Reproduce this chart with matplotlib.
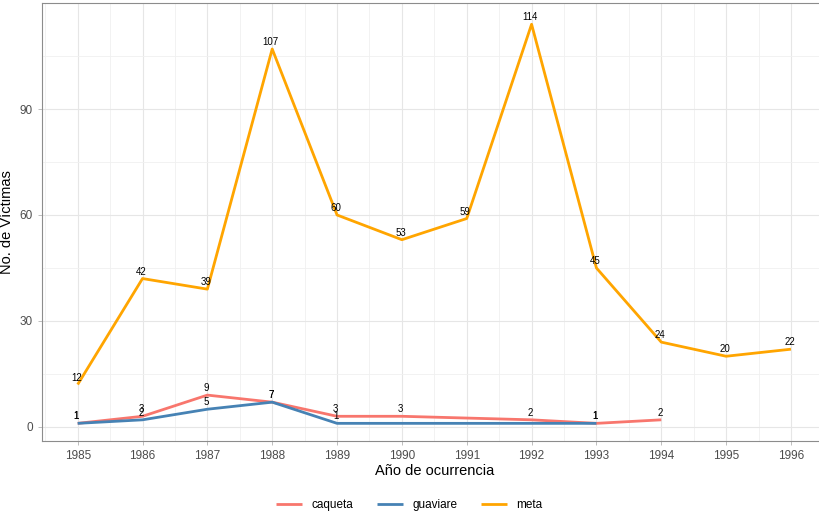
import matplotlib
matplotlib.use("Agg")
import matplotlib.pyplot as plt
from matplotlib.ticker import MultipleLocator

plt.rcParams["font.family"] = ["Liberation Sans", "DejaVu Sans"]

# data
caqueta_years = [1985, 1986, 1987, 1988, 1989, 1990, 1992, 1993, 1994]
caqueta_vals = [1, 3, 9, 7, 3, 3, 2, 1, 2]

guaviare_years = [1985, 1986, 1987, 1988, 1989, 1993]
guaviare_vals = [1, 2, 5, 7, 1, 1]

meta_years = list(range(1985, 1997))
meta_vals = [12, 42, 39, 107, 60, 53, 59, 114, 45, 24, 20, 22]

series = [
    ("caqueta", caqueta_years, caqueta_vals, "#F8766D"),
    ("guaviare", guaviare_years, guaviare_vals, "#4682B4"),
    ("meta", meta_years, meta_vals, "#FFA500"),
]

fig = plt.figure(figsize=(8.19, 5.14), dpi=100)
ax = fig.add_axes([0.0513, 0.142, 0.958, 0.852])

for name, xs, ys, col in series:
    ax.plot(xs, ys, color=col, lw=2.0, label=name, solid_capstyle="butt", zorder=3)
for name, xs, ys, col in series:
    for x, y in zip(xs, ys):
        ax.annotate(str(y), (x, y), xytext=(-1, 5), textcoords="offset points",
                    ha="center", va="center", fontsize=7, color="black", zorder=4)

ax.set_xlim(1984.45, 1996.55)
ax.set_ylim(-4, 120)
ax.set_xticks(meta_years)
ax.set_yticks([0, 30, 60, 90])
ax.xaxis.set_minor_locator(MultipleLocator(0.5))
ax.yaxis.set_minor_locator(MultipleLocator(15))
ax.grid(which="major", color="#E6E6E6", lw=0.8)
ax.grid(which="minor", color="#F0F0F0", lw=0.6)
ax.set_axisbelow(True)
ax.tick_params(which="major", length=3, color="#B3B3B3", labelsize=8.5, labelcolor="#4D4D4D", width=0.6)
ax.tick_params(which="minor", length=0)
for s in ax.spines.values():
    s.set_color("#8C8C8C")
    s.set_linewidth(0.8)

ax.set_xlabel("Año de ocurrencia", fontsize=10.5)
ax.set_ylabel("No. de Víctimas", fontsize=10.5)
ax.xaxis.set_label_coords(0.5, -0.052)
ax.yaxis.set_label_coords(-0.036, 0.5)

fig.legend(loc="lower center", bbox_to_anchor=(0.5, -0.015), ncol=3, frameon=False,
           fontsize=8.5, handlelength=2.2, columnspacing=2.0, handletextpad=0.8)

fig.savefig("out.png", dpi=100)
